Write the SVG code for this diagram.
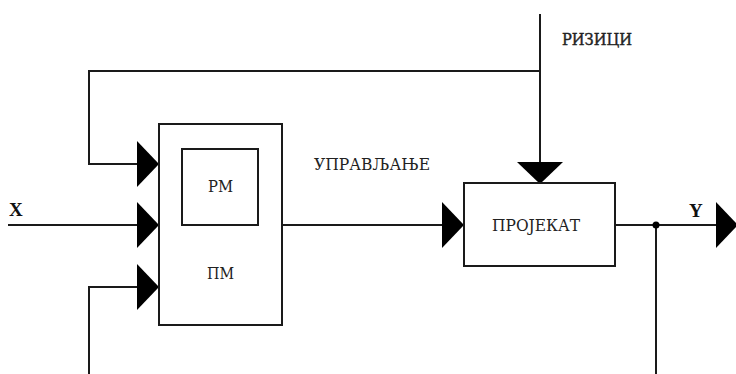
<svg xmlns="http://www.w3.org/2000/svg" width="736" height="374" viewBox="0 0 736 374">
<style>
.ln{fill:none;stroke:#1a1a1a;stroke-width:2}
.bx{fill:#fff;stroke:#1a1a1a;stroke-width:2}
.ah{fill:#000}
.t{font-family:"DejaVu Serif Condensed","DejaVu Serif","Liberation Serif",serif;font-size:16px;fill:#222}
.l{font-family:"Liberation Serif","Times New Roman",serif;font-size:19px;font-weight:bold;fill:#111}
</style>
<rect width="736" height="374" fill="#fff"/>
<g id="connectors">
<path class="ln" d="M540,14 V165"/>
<path class="ln" d="M540,71 H89 V164 H140"/>
<path class="ln" d="M8,225 H140"/>
<path class="ln" d="M89,374 V287 H140"/>
<path class="ln" d="M282,225 H444"/>
<path class="ln" d="M615,225 H718"/>
<path class="ln" d="M656,225 V374"/>
<circle cx="656" cy="225" r="3.5" fill="#000"/>
<polygon class="ah" points="137,141 159,164 137,187"/>
<polygon class="ah" points="137,202 159,225 137,248"/>
<polygon class="ah" points="137,264 159,287 137,310"/>
<polygon class="ah" points="442,202 464,225 442,248"/>
<polygon class="ah" points="517,162 563,162 540,184"/>
<polygon class="ah" points="716,202 738,225 716,248"/>
</g>
<g id="pm">
<rect class="bx" x="159" y="124" width="123" height="201"/>
<text class="t" x="207" y="279" textLength="27" lengthAdjust="spacingAndGlyphs">ПМ</text>
</g>
<g id="rm">
<rect class="bx" x="182" y="149" width="76" height="76"/>
<text class="t" x="208" y="192" textLength="25" lengthAdjust="spacingAndGlyphs">РМ</text>
</g>
<g id="projekat">
<rect class="bx" x="464" y="183" width="151" height="83"/>
<text class="t" x="492" y="231" textLength="88" lengthAdjust="spacingAndGlyphs">ПРОЈЕКАТ</text>
</g>
<g id="labels">
<text class="t" x="314" y="170" textLength="116" lengthAdjust="spacingAndGlyphs">УПРАВЉАЊЕ</text>
<text class="t" x="562" y="45" textLength="70" lengthAdjust="spacingAndGlyphs" stroke="#222" stroke-width="0.4">РИЗИЦИ</text>
<text class="l" x="9" y="216">X</text>
<text class="l" x="689" y="217">Y</text>
</g>
</svg>
